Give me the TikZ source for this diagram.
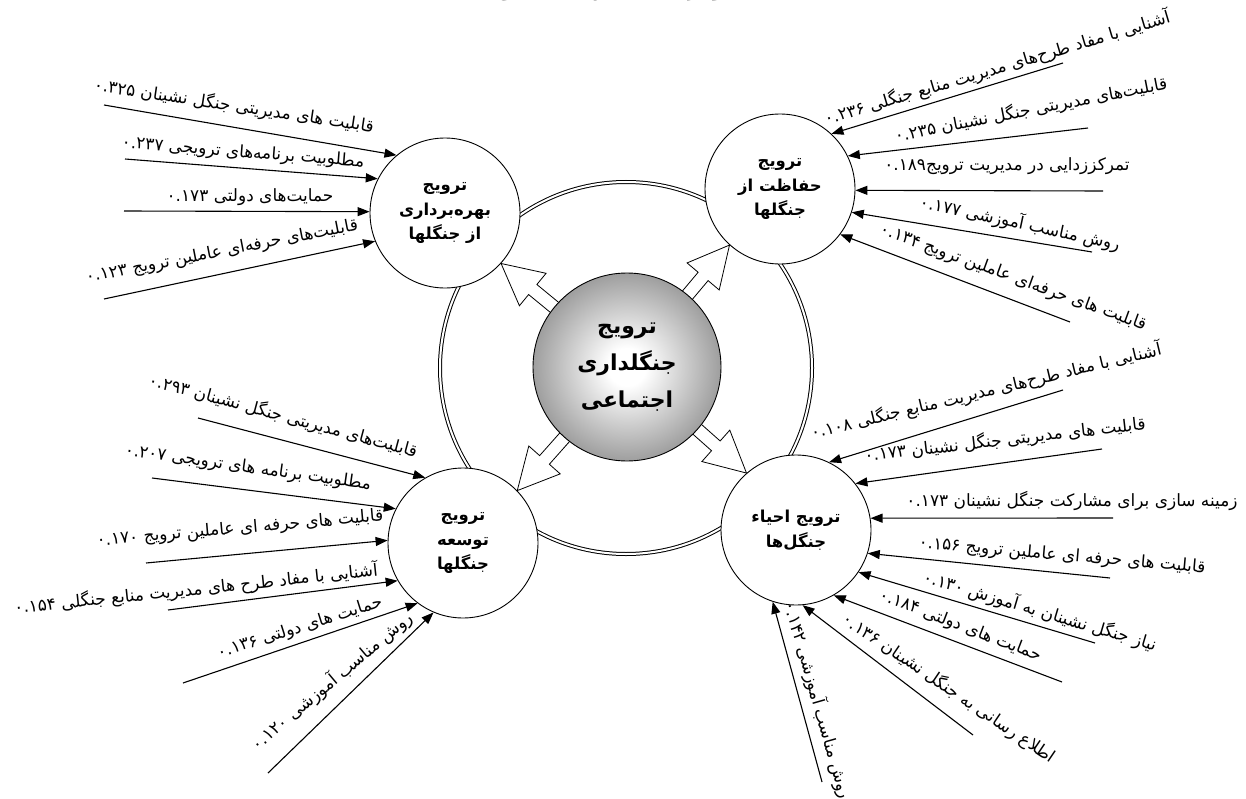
\documentclass[tikz,border=0pt]{standalone}
\usepackage{fontspec}
\usetikzlibrary{arrows.meta,calc}
\TeXXeTstate=1
\newfontfamily\fa[Script=Arabic]{DejaVu Sans}
\newcommand\RL[1]{\beginR #1\endR}
\newcommand\LR[1]{\beginL #1\endL{}}
\pgfdeclareradialshading{ballshade}{\pgfpoint{0bp}{0bp}}{color(0bp)=(white); color(5bp)=(white); color(25bp)=(black!38); color(49bp)=(black!63); color(100bp)=(black!63)}
\tikzset{
  sat/.style={circle, draw, line width=0.9bp, fill=white, minimum size=150bp, inner sep=0pt, align=center,
    font=\fa\bfseries\fontsize{16.5}{25}\selectfont},
  inarrow/.style={-{Triangle[length=12bp,width=9bp]}, line width=1.1bp},
  lbl/.style={font=\fa\fontsize{17}{19}\selectfont, inner sep=0pt},
  harrow/.style={draw, fill=white, line width=0.8bp, line join=miter},
}
\newcommand\hollowarrow[2]{%
  \draw[harrow] let \p1=($(#2)-(#1)$), \n1={atan2(\y1,\x1)} in
    ($(#1)+(\n1+90:6.5bp)$) -- ($(#2)+(\n1+180:41bp)+(\n1+90:6.5bp)$)
    -- ($(#2)+(\n1+180:41bp)+(\n1+90:21bp)$) -- (#2)
    -- ($(#2)+(\n1+180:41bp)+(\n1-90:21bp)$) -- ($(#2)+(\n1+180:41bp)+(\n1-90:6.5bp)$)
    -- ($(#1)+(\n1-90:6.5bp)$) -- cycle;}
\begin{document}
\begin{tikzpicture}[x=1bp,y=-1bp]
\useasboundingbox (0,0) rectangle (1246,799);
\fill[white] (0,0) rectangle (1246,799);

% title (cut off at the top)
\node[font=\fa\bfseries\fontsize{17.5}{19}\selectfont, anchor=base, inner sep=0pt] (title) at (620,-3) {\RL{نمودار (۲) مدل نهایی تحقیق}};

% ring
\node[circle, draw, double, double distance=2bp, line width=1bp, minimum size=372bp, inner sep=0pt] (ring) at (626,368) {};

% centre and satellites
\coordinate (cc) at (627,367);
\node[sat] (tl) at (445,213) {\RL{ترویج}\\\RL{بهره^^^^200cبرداری}\\\RL{از جنگلها}};
\node[sat] (tr) at (780,189) {\RL{ترویج}\\\RL{حفاظت از}\\\RL{جنگلها}};
\node[sat] (bl) at (463,543) {\RL{ترویج}\\\RL{توسعه}\\\RL{جنگلها}};
\node[sat] (br) at (796,530) {\RL{ترویج احیاء}\\\RL{جنگل^^^^200cها}};

% hollow arrows from centre
\coordinate (h1t) at (tl.-42);
\coordinate (h2t) at (tr.-132.5);
\coordinate (h3t) at (bl.44);
\coordinate (h4t) at (br.131.5);
\coordinate (h1s) at ($(cc)!88bp!(h1t)$);
\coordinate (h2s) at ($(cc)!88bp!(h2t)$);
\coordinate (h3s) at ($(cc)!88bp!(h3t)$);
\coordinate (h4s) at ($(cc)!88bp!(h4t)$);
\hollowarrow{h1s}{h1t}
\hollowarrow{h2s}{h2t}
\hollowarrow{h3s}{h3t}
\hollowarrow{h4s}{h4t}

% centre circle
\node[circle, draw, line width=0.9bp, shading=ballshade, minimum size=188bp, inner sep=0pt, align=center,
  font=\fa\bfseries\fontsize{22}{37}\selectfont] (c) at (cc) {\RL{ترویج}\\\RL{جنگلداری}\\\RL{اجتماعی}};

% ---------- top-left group
\coordinate (a1) at (104,105);
\coordinate (a2) at (125,159);
\coordinate (a3) at (124,211);
\coordinate (a4) at (104,299);
\draw[inarrow] (a1) -- (tl.130);
\draw[inarrow] (a2) -- (tl.153);
\draw[inarrow] (a3) -- (tl.179);
\draw[inarrow] (a4) -- (tl.202);
\node[lbl, rotate=-8.5] (l1) at (234,106) {\RL{قابلیت های مدیریتی جنگل نشینان \LR{۰.۳۲۵}}};
\node[lbl, rotate=-4.5] (l2) at (243,153) {\RL{مطلوبیت برنامه^^^^200cهای ترویجی \LR{۰.۲۳۷}}};
\node[lbl] (l3) at (250,197) {\RL{حمایت^^^^200cهای دولتی \LR{۰.۱۷۳}}};
\node[lbl, rotate=11] (l4) at (222,252) {\RL{قابلیت^^^^200cهای حرفه^^^^200cای عاملین ترویج \LR{۰.۱۲۳}}};

% ---------- top-right group
\coordinate (b1) at (1063,63);
\coordinate (b2) at (1088,128);
\coordinate (b3) at (1103,191);
\coordinate (b4) at (1092,252);
\coordinate (b5) at (1070,322);
\draw[inarrow] (b1) -- (tr.47);
\draw[inarrow] (b2) -- (tr.26);
\draw[inarrow] (b3) -- (tr.-1);
\draw[inarrow] (b4) -- (tr.-18);
\draw[inarrow] (b5) -- (tr.-37);
\node[lbl, rotate=16.5] (m1) at (997,68) {\RL{آشنایی با مفاد طرح^^^^200cهای مدیریت منابع جنگلی \LR{۰.۲۳۶}}};
\node[lbl, rotate=11] (m2) at (1031,110) {\RL{قابلیت^^^^200cهای مدیریتی جنگل نشینان \LR{۰.۲۳۵}}};
\node[lbl] (m3) at (1007,166) {\RL{تمرکززدایی در مدیریت ترویج\LR{۰.۱۸۹}}};
\node[lbl, rotate=-12] (m4) at (1020,223) {\RL{روش مناسب آموزشی \LR{۰.۱۷۷}}};
\node[lbl, rotate=-20] (m5) at (1013,278) {\RL{قابلیت های حرفه^^^^200cای عاملین ترویج \LR{۰.۱۳۴}}};

% ---------- bottom-left group
\coordinate (d1) at (198,418);
\coordinate (d2) at (152,478);
\coordinate (d3) at (146,563);
\coordinate (d4) at (168,610);
\coordinate (d5) at (183,683);
\coordinate (d6) at (268,773);
\draw[inarrow] (d1) -- (bl.120);
\draw[inarrow] (d2) -- (bl.153);
\draw[inarrow] (d3) -- (bl.178);
\draw[inarrow] (d4) -- (bl.210);
\draw[inarrow] (d5) -- (bl.233);
\draw[inarrow] (d6) -- (bl.247);
\node[lbl, rotate=-15] (n1) at (283,416) {\RL{قابلیت^^^^200cهای مدیریتی جنگل نشینان \LR{۰.۲۹۳}}};
\node[lbl, rotate=-8] (n2) at (248,468) {\RL{مطلوبیت برنامه های ترویجی \LR{۰.۲۰۷}}};
\node[lbl, rotate=5] (n3) at (240,529) {\RL{قابلیت های حرفه ای عاملین ترویج \LR{۰.۱۷۰}}};
\node[lbl, rotate=6] (n4) at (196,589) {\RL{آشنایی با مفاد طرح های مدیریت منابع جنگلی \LR{۰.۱۵۴}}};
\node[lbl, rotate=17.5] (n5) at (300,628) {\RL{حمایت های دولتی \LR{۰.۱۳۶}}};
\node[lbl, rotate=40] (n6) at (332,681) {\RL{روش مناسب آموزشی \LR{۰.۱۲۰}}};

% ---------- bottom-right group
\coordinate (e1) at (1063,390);
\coordinate (e2) at (1102,449);
\coordinate (e3) at (1113,518);
\coordinate (e4) at (1110,578);
\coordinate (e5) at (1095,643);
\coordinate (e6) at (1062,682);
\coordinate (e7) at (973,735);
\coordinate (e8) at (822,782);
\draw[inarrow] (e1) -- (br.64);
\draw[inarrow] (e2) -- (br.38);
\draw[inarrow] (e3) -- (br.9);
\draw[inarrow] (e4) -- (br.-18);
\draw[inarrow] (e5) -- (br.-34.5);
\draw[inarrow] (e6) -- (br.-60);
\draw[inarrow] (e7) -- (br.-85);
\draw[inarrow] (e8) -- (br.-108);
\node[lbl, rotate=13.5] (p1) at (986,391) {\RL{آشنایی با مفاد طرح^^^^200cهای مدیریت منابع جنگلی \LR{۰.۱۰۸}}};
\node[lbl, rotate=6.5] (p2) at (1005,440) {\RL{قابلیت های مدیریتی جنگل نشینان \LR{۰.۱۷۳}}};
\node[lbl] (p3) at (1072,501) {\RL{زمینه سازی برای مشارکت جنگل نشینان \LR{۰.۱۷۳}}};
\node[lbl, rotate=-5] (p4) at (1062,556) {\RL{قابلیت های حرفه ای عاملین ترویج \LR{۰.۱۵۶}}};
\node[lbl, rotate=-16.5] (p5) at (1040,611) {\RL{نیاز جنگل نشینان به آموزش \LR{۰.۱۳۰}}};
\node[lbl, rotate=-21] (p6) at (960,626) {\RL{حمایت های دولتی \LR{۰.۱۸۴}}};
\node[lbl, rotate=-34] (p7) at (949,688) {\RL{اطلاع رسانی به جنگل نشینان \LR{۰.۱۳۶}}};
\node[lbl, rotate=-74] (p8) at (818,700) {\RL{روش مناسب آموزشی \LR{۰.۱۴۲}}};
\end{tikzpicture}
\end{document}
